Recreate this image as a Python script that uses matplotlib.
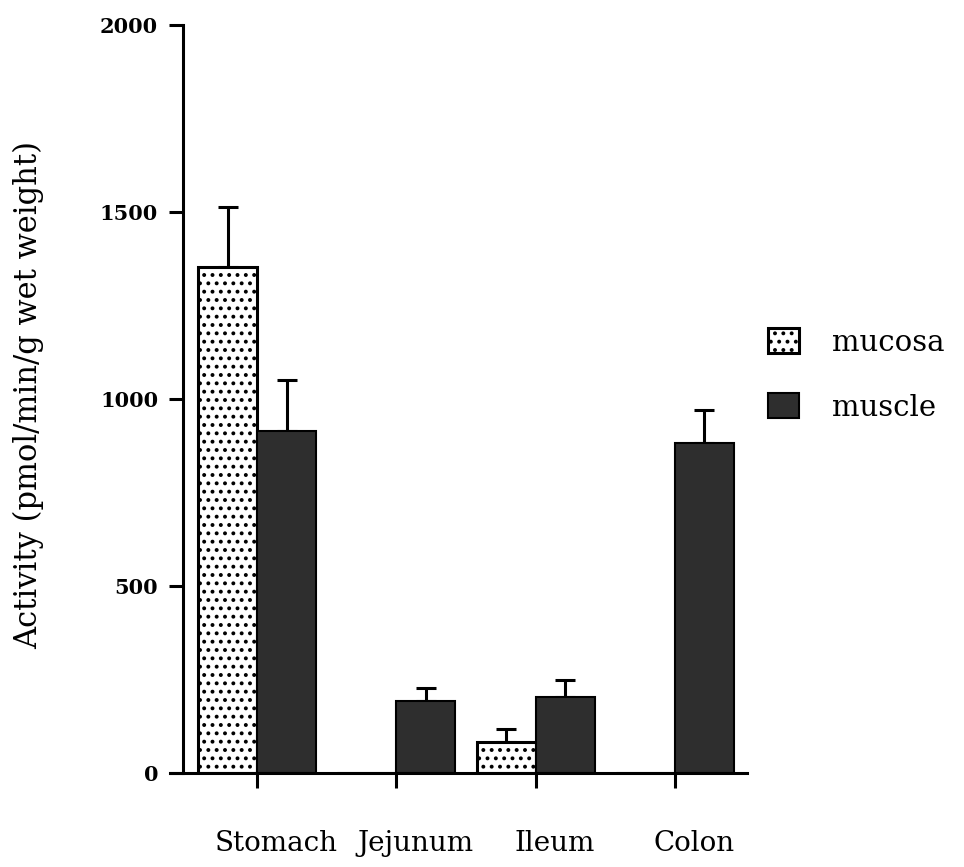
import numpy as np
import matplotlib
matplotlib.use('Agg')
import matplotlib.pyplot as plt
import matplotlib.transforms as mtransforms

matplotlib.rcParams['font.family'] = 'DejaVu Serif'
matplotlib.rcParams['hatch.linewidth'] = 1.6
matplotlib.rcParams['hatch.color'] = 'black'

# enzyme activity along the gut, mean + SEM
regions = ['Stomach', 'Jejunum', 'Ileum', 'Colon']
mucosa = [1352, 0, 82, 0]
mucosa_err = [162, 0, 35, 0]
muscle = [915, 193, 203, 883]
muscle_err = [135, 35, 47, 87]

x = np.arange(len(regions))
w = 0.424

fig = plt.figure(figsize=(9.64, 8.67), dpi=100)
ax = fig.add_axes([170/964, 94/867, 577/964, 748/867])

# mucosa bars sit left of the tick, muscle bars right of it
ax.bar(x - w/2, mucosa, w, color='white', edgecolor='black', linewidth=2.2,
       hatch='..', label='mucosa', zorder=2)
ax.bar(x + w/2, muscle, w, color='#2e2e2e', edgecolor='black', linewidth=1.5,
       label='muscle', zorder=2)

for xi, v, e in zip(x - w/2, mucosa, mucosa_err):
    if v > 0:
        ax.errorbar(xi, v, yerr=[[0], [e]], fmt='none', ecolor='black',
                    elinewidth=2.2, capsize=7.5, capthick=2.2, zorder=1)
for xi, v, e in zip(x + w/2, muscle, muscle_err):
    if v > 0:
        ax.errorbar(xi, v, yerr=[[0], [e]], fmt='none', ecolor='black',
                    elinewidth=2.2, capsize=7.5, capthick=2.2, zorder=1)

ax.set_xlim(-0.625, 3.518)
ax.set_ylim(0, 2000)
ax.spines['top'].set_visible(False)
ax.spines['right'].set_visible(False)
ax.spines['left'].set_position(('data', -0.531))
ax.spines['left'].set_linewidth(2.2)
ax.spines['bottom'].set_linewidth(2.2)

ax.set_yticks([0, 500, 1000, 1500, 2000])
ax.tick_params(axis='y', direction='out', length=10, width=2.2, pad=8)
for lab in ax.get_yticklabels():
    lab.set_fontsize(15)
    lab.set_fontweight('bold')
ax.set_xticks(x, regions)
ax.tick_params(axis='x', direction='out', length=11, width=2.2, labelsize=20, pad=30)
offset = mtransforms.ScaledTranslation(19/100, 0, fig.dpi_scale_trans)
for lab in ax.get_xticklabels():
    lab.set_transform(lab.get_transform() + offset)

ax.set_ylabel('Activity (pmol/min/g wet weight)', fontsize=22)
ax.yaxis.set_label_coords(-0.218, 0.505)

ax.legend(loc='upper left', bbox_to_anchor=(768/964, 1 - 328/867),
          bbox_transform=fig.transFigure, frameon=False, fontsize=21,
          handlelength=1.05, handleheight=0.95, handletextpad=1.15,
          labelspacing=1.25, borderpad=0, borderaxespad=0)

plt.savefig('out.png', dpi=100)
